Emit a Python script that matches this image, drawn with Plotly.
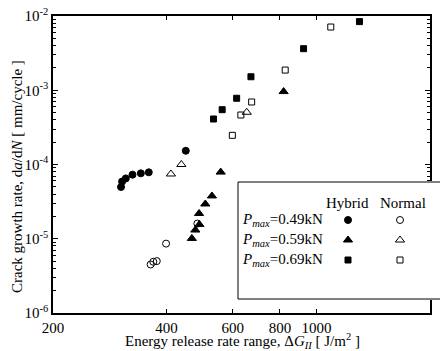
import numpy as np
import plotly.graph_objects as go

# ---- data ----
h049_x = [303, 305, 312, 325, 342, 359, 450]
h049_y = [4.98e-5, 5.9e-5, 6.5e-5, 7.3e-5, 7.6e-5, 7.85e-5, 1.53e-4]
n049_x = [363, 369, 377, 399, 483]
n049_y = [4.5e-6, 4.9e-6, 5.0e-6, 8.6e-6, 1.6e-5]
h059_x = [467, 477, 489, 488, 507, 528, 557, 818]
h059_y = [1.01e-5, 1.31e-5, 1.56e-5, 2.19e-5, 2.94e-5, 3.77e-5, 7.9e-5, 9.6e-4]
n059_x = [411, 438, 653]
n059_y = [7.45e-5, 1.0e-4, 5.05e-4]
h069_x = [533, 562, 614, 670, 924, 1300]
h069_y = [4.1e-4, 5.47e-4, 7.8e-4, 1.52e-3, 3.63e-3, 8.4e-3]
n069_x = [598, 630, 673, 826, 1091]
n069_y = [2.47e-4, 4.64e-4, 6.95e-4, 1.87e-3, 7.1e-3]

x_ticks = [200, 400, 600, 800, 1000]
x_ticktext = ["200", "400", "600", "800", "1000"]
y_ticks = [1e-6, 1e-5, 1e-4, 1e-3, 1e-2]
y_ticktext = ["10<sup>-6</sup>", "10<sup>-5</sup>", "10<sup>-4</sup>", "10<sup>-3</sup>", "10<sup>-2</sup>"]
y_minor = [m * 10.0 ** e for e in range(-6, -2) for m in range(2, 10)]

legend_labels = ["=0.49kN", "=0.59kN", "=0.69kN"]
legend_cols = ["Hybrid", "Normal"]

FONT = "Liberation Serif"
W, H = 440, 351

fig = go.Figure()

def add(x, y, symbol, size):
    fig.add_trace(go.Scatter(
        x=x, y=y, mode="markers", showlegend=False,
        marker=dict(symbol=symbol, size=size, color="black",
                    line=dict(color="black", width=1)),
        xaxis="x", yaxis="y"))

add(h049_x, h049_y, "circle", 7)
add(n049_x, n049_y, "circle-open", 7)
add(h059_x, h059_y, "triangle-up", 8)
add(n059_x, n059_y, "triangle-up-open", 8)
add(h069_x, h069_y, "square", 6)
add(n069_x, n069_y, "square-open", 6)

# legend markers on an overlay pixel-like axis
leg_sym_h = ["circle", "triangle-up", "square"]
leg_sym_n = ["circle-open", "triangle-up-open", "square-open"]
leg_size = [7, 8, 6]
row_y = [79, 59, 39]
for i in range(3):
    fig.add_trace(go.Scatter(x=[110], y=[row_y[i]], mode="markers", showlegend=False,
                             marker=dict(symbol=leg_sym_h[i], size=leg_size[i], color="black",
                                         line=dict(color="black", width=1)),
                             xaxis="x2", yaxis="y2"))
    fig.add_trace(go.Scatter(x=[162], y=[row_y[i]], mode="markers", showlegend=False,
                             marker=dict(symbol=leg_sym_n[i], size=leg_size[i], color="black",
                                         line=dict(color="black", width=1)),
                             xaxis="x2", yaxis="y2"))

fig.add_shape(type="rect", xref="x2", yref="y2", x0=0, x1=215, y0=0, y1=117,
              line=dict(color="black", width=1), fillcolor="white", layer="below")

ann = []
ann.append(dict(text=legend_cols[0], x=109, y=96, xref="x2", yref="y2", showarrow=False,
                xanchor="center", yanchor="middle",
                font=dict(family=FONT, size=15, color="black")))
ann.append(dict(text=legend_cols[1], x=165, y=96, xref="x2", yref="y2", showarrow=False,
                xanchor="center", yanchor="middle",
                font=dict(family=FONT, size=15, color="black")))
for i in range(3):
    ann.append(dict(text="<i>P</i><sub><i>max</i></sub>" + legend_labels[i], x=2, y=row_y[i],
                    xref="x2", yref="y2", xanchor="left", yanchor="middle", showarrow=False,
                    font=dict(family=FONT, size=15, color="black")))

ann.append(dict(text="Crack growth rate, d<i>a</i>/d<i>N</i> [ mm/cycle ]",
                x=17 / W, y=(H - 177) / H, xref="paper", yref="paper", textangle=-90,
                xanchor="center", yanchor="middle",
                showarrow=False, font=dict(family=FONT, size=15, color="black")))
ann.append(dict(text="Energy release rate range, Δ<i>G</i><sub><i>II</i></sub> [ J/m<sup>2</sup> ]",
                x=242 / W, y=(H - 341) / H, xref="paper", yref="paper",
                xanchor="center", yanchor="middle",
                showarrow=False, font=dict(family=FONT, size=15, color="black")))

fig.update_layout(
    width=W, height=H,
    margin=dict(l=0, r=0, t=0, b=0, pad=0, autoexpand=False),
    paper_bgcolor="white", plot_bgcolor="white",
    showlegend=False,
    annotations=ann,
    xaxis=dict(type="log", range=[np.log10(200), np.log10(2000)],
               domain=[53 / W, 430 / W], anchor="y", automargin=False,
               tickmode="array", tickvals=x_ticks, ticktext=x_ticktext,
               ticks="inside", ticklen=4, tickwidth=1, tickcolor="black",
               showline=True, linewidth=1.5, linecolor="black", mirror="ticks",
               showgrid=False, zeroline=False,
               tickfont=dict(family=FONT, size=15, color="black")),
    yaxis=dict(type="log", range=[-6, -2],
               domain=[38 / H, 335 / H], anchor="x", automargin=False,
               tickmode="array", tickvals=y_ticks, ticktext=y_ticktext,
               ticks="inside", ticklen=5, tickwidth=1, tickcolor="black",
               minor=dict(ticks="inside", ticklen=3, tickwidth=1, tickcolor="black",
                          tickmode="array", tickvals=y_minor, showgrid=False),
               showline=True, linewidth=1.5, linecolor="black", mirror="ticks",
               showgrid=False, zeroline=False,
               tickfont=dict(family=FONT, size=15, color="black")),
    xaxis2=dict(domain=[237 / W, 1.0], range=[-1, 202], anchor="y2", visible=False,
                showticklabels=False, automargin=False, showgrid=False, zeroline=False),
    yaxis2=dict(domain=[51 / H, 170 / H], range=[-1, 118], anchor="x2", visible=False,
                showticklabels=False, automargin=False, showgrid=False, zeroline=False),
)

fig.write_html("out.html", config={"responsive": False})
